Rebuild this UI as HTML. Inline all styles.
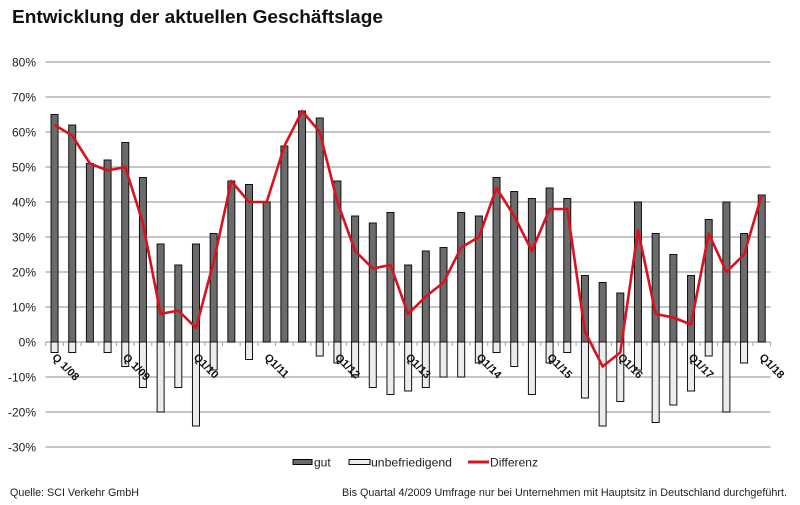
<!DOCTYPE html>
<html><head><meta charset="utf-8"><style>
html,body{margin:0;padding:0;background:#fff;}
svg{display:block;font-family:"Liberation Sans",Arial,sans-serif;}
</style></head><body>
<svg width="800" height="505" viewBox="0 0 800 505" xmlns="http://www.w3.org/2000/svg">
<rect width="800" height="505" fill="#fff"/>
<text x="12" y="23" font-size="18.5" font-weight="bold" fill="#111" textLength="371" lengthAdjust="spacingAndGlyphs">Entwicklung der aktuellen Geschäftslage</text>
<g id="grid" stroke="#a3a3a3" stroke-width="1.3"></g>
<g id="ylab" font-size="12" fill="#222" text-anchor="end"></g>
<g id="ticks" stroke="#a3a3a3" stroke-width="1"></g>
<g id="bars"></g>
<polyline id="diff" fill="none" stroke="#d9121f" stroke-width="2.6" stroke-linejoin="round"/>
<g id="xlab" font-size="11" font-weight="bold" fill="#111"></g>
<g font-size="12" fill="#222">
<rect x="293" y="459.5" width="19" height="5" fill="#6b6b6b" stroke="#000" stroke-width="1"/>
<text x="314" y="466.5">gut</text>
<rect x="349" y="459.5" width="21" height="5" fill="#ececec" stroke="#000" stroke-width="1"/>
<text x="371" y="466.5" textLength="81" lengthAdjust="spacingAndGlyphs">unbefriedigend</text>
<line x1="468" y1="462" x2="489" y2="462" stroke="#d9121f" stroke-width="3"/>
<text x="490" y="466.5" textLength="48" lengthAdjust="spacingAndGlyphs">Differenz</text>
</g>
<text x="10" y="496" font-size="11" fill="#222" textLength="129" lengthAdjust="spacingAndGlyphs">Quelle: SCI Verkehr GmbH</text>
<text x="342" y="496" font-size="11" fill="#222" textLength="445" lengthAdjust="spacingAndGlyphs">Bis Quartal 4/2009 Umfrage nur bei Unternehmen mit Hauptsitz in Deutschland durchgeführt.</text>
<script>
(function(){
var NS="http://www.w3.org/2000/svg";
function el(t,a,p,txt){var e=document.createElementNS(NS,t);for(var k in a)e.setAttribute(k,a[k]);if(txt!=null)e.textContent=txt;p.appendChild(e);return e;}
var gut=[65,62,51,52,57,47,28,22,28,31,46,45,40,56,66,64,46,36,34,37,22,26,27,37,36,47,43,41,44,41,19,17,14,40,31,25,19,35,40,31,42];
var unb=[-3,-3,0,-3,-7,-13,-20,-13,-24,-8,0,-5,0,0,0,-4,-6,-10,-13,-15,-14,-13,-10,-10,-6,-3,-7,-15,-6,-3,-16,-24,-17,-8,-23,-18,-14,-4,-20,-6,0];
var diff=[62,59,51,49,50,34,8,9,4,23,46,40,40,56,66,60,40,26,21,22,8,13,17,27,30,44,36,26,38,38,3,-7,-3,32,8,7,5,31,20,25,42];
var x0=45.7,w=17.68,x1=x0+41*w;
function Y(v){return 342-3.5*v;}
function C(i){return x0+w*(i+0.5);}
var g=document.getElementById('grid'),yl=document.getElementById('ylab');
for(var v=80;v>=-30;v-=10){
 el('line',{x1:x0,x2:x1,y1:Y(v),y2:Y(v)},g);
 el('text',{x:36,y:Y(v)+4.3},yl,v+'%');
}
var tk=document.getElementById('ticks');
for(var k=0;k<=41;k++){var x=x0+k*w;el('line',{x1:x,x2:x,y1:342,y2:346},tk);}
var b=document.getElementById('bars');
for(var i=0;i<41;i++){
 var c=C(i);
 if(unb[i]<0) el('rect',{x:c-3.5,y:342,width:7,height:-unb[i]*3.5,fill:'#ececec',stroke:'#111','stroke-width':1},b);
 el('rect',{x:c-3.5,y:Y(gut[i]),width:7,height:gut[i]*3.5,fill:'#6b6b6b',stroke:'#111','stroke-width':1},b);
}
var pts=[];for(var i=0;i<41;i++)pts.push(C(i).toFixed(1)+','+Y(diff[i]).toFixed(1));
document.getElementById('diff').setAttribute('points',pts.join(' '));
var xl=document.getElementById('xlab');
var labs={0:'Q 1/08',4:'Q 1/09',8:'Q1/10',12:'Q1/11',16:'Q1/12',20:'Q1/13',24:'Q1/14',28:'Q1/15',32:'Q1/16',36:'Q1/17',40:'Q1/18'};
for(var key in labs){var i=+key;var sx=C(i)-3,sy=358;el('text',{x:sx,y:sy,transform:'rotate(45 '+sx+' '+sy+')'},xl,labs[key]);}
})();
</script>
</svg>
</body></html>
